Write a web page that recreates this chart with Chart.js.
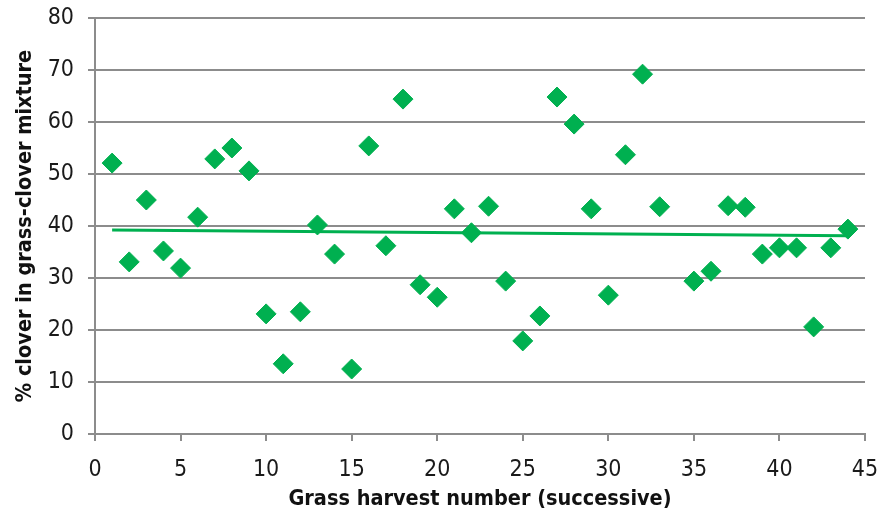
<!DOCTYPE html>
<html lang="en">
<head>
    <meta charset="UTF-8">
    <title>Clover share per grass harvest</title>
    <script src="https://cdn.jsdelivr.net/npm/chart.js"></script>
    <style>
        body { margin: 0; background: #fff; }
        #grafico { display: block; }
    </style>
</head>
<body>
    <canvas id="grafico" width="880" height="515"></canvas>
<script>
    // harvest number (x) and % clover (y)
    const harvests = [1, 2, 3, 4, 5, 6, 7, 8, 9, 10, 11, 12, 13, 14, 15, 16, 17, 18, 19, 20, 21, 22,
        23, 24, 25, 26, 27, 28, 29, 30, 31, 32, 33, 35, 36, 37, 38, 39, 40, 41, 42, 43, 44];
    const cloverPct = [52.1, 33.1, 45.0, 35.2, 31.9, 41.7, 52.9, 55.0, 50.6, 23.1, 13.5, 23.5, 40.2, 34.6, 12.5, 55.4,
        36.2, 64.4, 28.7, 26.3, 43.3, 38.7, 43.8, 29.4, 17.9, 22.7, 64.8, 59.6, 43.3, 26.7, 53.7, 69.2,
        43.7, 29.4, 31.3, 43.9, 43.6, 34.6, 35.8, 35.8, 20.6, 35.8, 39.4];
    const xTicks = [0, 5, 10, 15, 20, 25, 30, 35, 40, 45];
    const yTicks = [0, 10, 20, 30, 40, 50, 60, 70, 80];

    const verde = '#00B050';
    const cinza = '#8c8c8c';
    const fonte = "'Liberation Sans Narrow', 'DejaVu Sans Condensed', sans-serif";

    // pontos
    const pontos = harvests.map(function (h, i) { return { x: h, y: cloverPct[i] }; });

    // linha de tendencia (minimos quadrados sobre os mesmos dados)
    const n = harvests.length;
    let sx = 0, sy = 0, sxx = 0, sxy = 0;
    for (let i = 0; i < n; i++) {
        sx += harvests[i]; sy += cloverPct[i];
        sxx += harvests[i] * harvests[i]; sxy += harvests[i] * cloverPct[i];
    }
    const slope = (n * sxy - sx * sy) / (n * sxx - sx * sx);
    const intercept = (sy - slope * sx) / n;
    const xIni = harvests[0], xFim = harvests[n - 1];
    const tendencia = [
        { x: xIni, y: intercept + slope * xIni },
        { x: xFim, y: intercept + slope * xFim }
    ];

    new Chart(document.getElementById('grafico'), {
        type: 'scatter',
        data: {
            datasets: [
                {
                    type: 'line',
                    data: tendencia,
                    borderColor: verde,
                    borderWidth: 3,
                    pointRadius: 0,
                    fill: false,
                    order: 2
                },
                {
                    data: pontos,
                    pointStyle: 'rectRot',
                    pointRadius: 10,
                    pointBackgroundColor: verde,
                    pointBorderColor: verde,
                    pointBorderWidth: 1,
                    order: 1
                }
            ]
        },
        options: {
            responsive: false,
            animation: false,
            layout: { padding: { top: 18, right: 0, left: 0, bottom: 0 } },
            plugins: { legend: { display: false }, tooltip: { enabled: false } },
            scales: {
                x: {
                    type: 'linear',
                    min: 0, max: 45,
                    afterBuildTicks: function (s) { s.ticks = xTicks.map(function (v) { return { value: v }; }); },
                    afterFit: function (s) { s.height = 81; s.paddingRight = 15; },
                    grid: { drawOnChartArea: false, drawTicks: true, tickLength: 7, color: cinza, lineWidth: 2 },
                    border: { display: true, color: cinza, width: 2 },
                    ticks: { color: '#1a1a1a', font: { family: fonte, size: 23 }, padding: 15, maxRotation: 0 },
                    title: {
                        display: true,
                        text: 'Grass harvest number (successive)',
                        color: '#111',
                        font: { family: fonte, size: 21.5, weight: 'bold' },
                        padding: { top: 0, bottom: 3 }
                    }
                },
                y: {
                    min: 0, max: 80,
                    afterBuildTicks: function (s) { s.ticks = yTicks.map(function (v) { return { value: v }; }); },
                    afterFit: function (s) { s.width = 95; s.paddingTop = 0; s.paddingBottom = 0; },
                    grid: { drawOnChartArea: true, drawTicks: true, tickLength: 7, color: cinza, lineWidth: 2 },
                    border: { display: true, color: cinza, width: 2 },
                    ticks: { color: '#1a1a1a', font: { family: fonte, size: 23 }, padding: 14 },
                    title: {
                        display: true,
                        text: '% clover in grass-clover mixture',
                        color: '#111',
                        font: { family: fonte, size: 21.5, weight: 'bold' },
                        padding: { top: 13, bottom: 0 }
                    }
                }
            }
        }
    });
</script>
</body>
</html>
